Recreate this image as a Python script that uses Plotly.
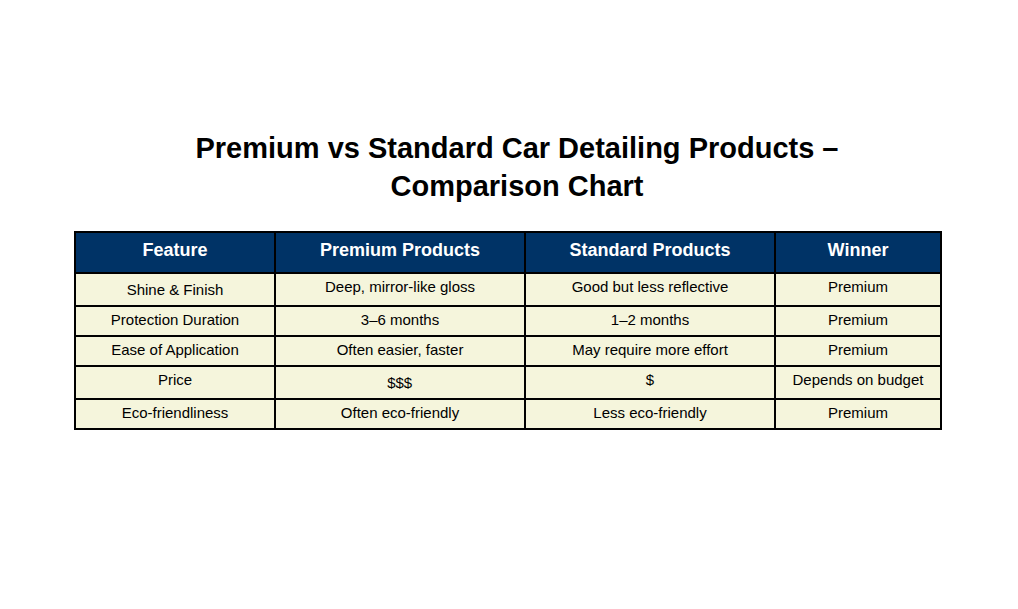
from plotly import graph_objects as go

# Data
headers = ["Feature", "Premium Products", "Standard Products", "Winner"]
features = ["Shine & Finish", "Protection Duration", "Ease of Application", "Price", "Eco-friendliness"]
premium = ["Deep, mirror-like gloss", "3–6 months", "Often easier, faster", "$$$", "Often eco-friendly"]
standard = ["Good but less reflective", "1–2 months", "May require more effort", "$", "Less eco-friendly"]
winner = ["Premium", "Premium", "Premium", "Depends on budget", "Premium"]

fig = go.Figure(
    go.Table(
        domain={"x": [67 / 1018, 933 / 1018], "y": [0, 1 - 224 / 609]},
        columnwidth=[200, 250, 250, 166],
        header={
            "values": [f"<b>{h}</b>" for h in headers],
            "fill_color": "#003366",
            "font": {"color": "white", "size": 18, "family": "Liberation Sans, Arial"},
            "line": {"color": "black", "width": 1.5},
            "align": "center",
            "height": 41,
        },
        cells={
            "values": [features, premium, standard, winner],
            "fill_color": "#f5f5dc",
            "font": {"color": "black", "size": 15, "family": "Liberation Sans, Arial"},
            "line": {"color": "black", "width": 1.5},
            "align": "center",
            "height": 30,
        },
    )
)

fig.update_layout(
    width=1018,
    height=609,
    margin={"l": 0, "r": 0, "t": 0, "b": 0},
    paper_bgcolor="white",
    title={
        "text": "<b>Premium vs Standard Car Detailing Products –<br>Comparison Chart</b>",
        "x": 0.5,
        "xanchor": "center",
        "y": 1 - 150 / 609,
        "yanchor": "middle",
        "font": {"size": 29, "color": "black", "family": "Liberation Sans, Arial"},
    },
)

fig.write_html("out.html")
